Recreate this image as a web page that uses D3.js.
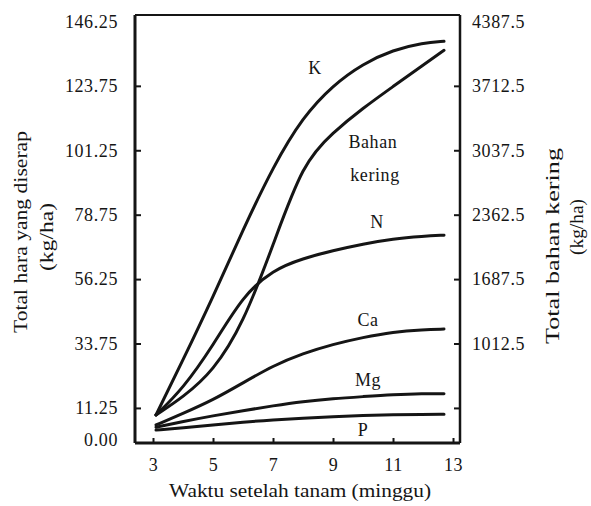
<!DOCTYPE html>
<html>
<head>
<meta charset="utf-8">
<script src="https://cdn.jsdelivr.net/npm/d3@7"></script>
<style>
  body { margin: 0; background: #fff; }
  svg { display: block; font-family: "Liberation Serif", "Times New Roman", serif; }
</style>
</head>
<body>
<div id="chart"></div>
<script>
// Data (weeks after planting)
const weeks = [3.1, 4, 5, 6, 7, 8, 9, 10, 11, 12, 12.7];
// nutrient uptake, kg/ha (left axis)
const kValues  = [8.8, 28, 50, 73.5, 95.5, 113, 124, 131.5, 136.3, 138.8, 139.3];
const nValues  = [8.8, 18, 33, 50.5, 59.5, 63.5, 66.2, 68.5, 70.3, 71.2, 71.6];
const caValues = [5.3, 9.3, 14, 20, 26, 30.3, 33.5, 35.9, 37.8, 38.6, 38.8];
const mgValues = [4.5, 6.5, 8.5, 10.3, 12, 13.5, 14.5, 15.2, 15.9, 16.3, 16.2];
const pValues  = [3.5, 4.3, 5.3, 6.3, 7.1, 7.7, 8.2, 8.6, 8.9, 9.0, 9.0];
// dry matter, kg/ha (right axis)
const bkValues = [264, 450, 720, 1215, 2040, 2910, 3225, 3480, 3705, 3930, 4085];

// tick labels
const leftTicks = [0, 11.25, 33.75, 56.25, 78.75, 101.25, 123.75, 146.25];
const rightTicks = [337.5, 1012.5, 1687.5, 2362.5, 3037.5, 3712.5, 4387.5];
const weekTicks = [3, 5, 7, 9, 11, 13];

// curve labels, placed in data units
const labelNames  = ['K', 'Bahan', 'kering', 'N', 'Ca', 'Mg', 'P'];
const labelWeeks  = [8.4, 10.33, 10.4, 10.47, 10.17, 10.17, 10.0];
const labelValues = [130, 104.1, 92.6, 76.2, 41.9, 21, 3.5];

const WIDTH = 591, HEIGHT = 506;
const MARGIN = { top: 15, right: 131, bottom: 63, left: 135 };
const INK = '#151515';

const svg = d3.select('#chart').append('svg')
    .attr('width', WIDTH)
    .attr('height', HEIGHT);

const x = d3.scaleLinear().domain([2.4, 13.233]).range([MARGIN.left, WIDTH - MARGIN.right]);
const y = d3.scaleLinear().domain([-1, 148.5]).range([HEIGHT - MARGIN.bottom, MARGIN.top]);
const y2 = d3.scaleLinear().domain([-30, 4455]).range([HEIGHT - MARGIN.bottom, MARGIN.top]);

// Axes
const leftAxis = svg.append('g')
    .attr('transform', `translate(${MARGIN.left},0)`)
    .call(d3.axisLeft(y).tickValues(leftTicks).tickFormat(d3.format('.2f'))
        .tickSizeInner(-6).tickSizeOuter(0).tickPadding(17));
leftAxis.selectAll('.tick').filter(d => d === 0 || d === 146.25).select('line').remove();

const rightAxis = svg.append('g')
    .attr('transform', `translate(${WIDTH - MARGIN.right},0)`)
    .call(d3.axisRight(y2).tickValues(rightTicks)
        .tickFormat(d => d === 337.5 ? '' : d3.format('.1f')(d))
        .tickSizeInner(-6).tickSizeOuter(0).tickPadding(12));
rightAxis.selectAll('.tick').filter(d => d === 4387.5).select('line').remove();

svg.append('g')
    .attr('transform', `translate(0,${HEIGHT - MARGIN.bottom})`)
    .call(d3.axisBottom(x).tickValues(weekTicks).tickFormat(d3.format('d'))
        .tickSizeInner(-5).tickSizeOuter(0).tickPadding(15));

svg.selectAll('.domain').remove();
svg.selectAll('.tick line').attr('stroke', INK).attr('stroke-width', 2);
svg.selectAll('.tick text')
    .attr('fill', INK)
    .style('font-size', '18px')
    .style('letter-spacing', '0.6px')
    .style('font-family', '"Liberation Serif", serif');

// Frame
const x0 = MARGIN.left, x1 = WIDTH - MARGIN.right;
const yTop = MARGIN.top, yBot = HEIGHT - MARGIN.bottom;
const frame = svg.append('g').attr('stroke', INK).attr('fill', 'none');
frame.append('line').attr('x1', x0).attr('x2', x0).attr('y1', yTop).attr('y2', yBot).attr('stroke-width', 3);
frame.append('line').attr('x1', x0).attr('x2', x1).attr('y1', yBot).attr('y2', yBot).attr('stroke-width', 3);
frame.append('line').attr('x1', x1).attr('x2', x1).attr('y1', yTop).attr('y2', yBot).attr('stroke-width', 2.5);
frame.append('line').attr('x1', x0).attr('x2', x1).attr('y1', yTop).attr('y2', yTop).attr('stroke-width', 2);

// Curves (smooth hand-drawn look)
const line = d3.line()
    .x((d, i) => x(weeks[i]))
    .y(d => y(d))
    .curve(d3.curveBasis);
const line2 = d3.line()
    .x((d, i) => x(weeks[i]))
    .y(d => y2(d))
    .curve(d3.curveBasis);

const curves = svg.append('g')
    .attr('fill', 'none')
    .attr('stroke', INK)
    .attr('stroke-width', 3)
    .attr('stroke-linecap', 'round');
[kValues, nValues, caValues, mgValues, pValues].forEach(vals => {
    curves.append('path').attr('d', line(vals));
});
curves.append('path').attr('d', line2(bkValues));

// Curve labels
svg.append('g')
    .selectAll('text')
    .data(labelNames)
    .enter().append('text')
    .attr('x', (d, i) => x(labelWeeks[i]))
    .attr('y', (d, i) => y(labelValues[i]))
    .attr('dy', '0.35em')
    .attr('text-anchor', 'middle')
    .attr('fill', INK)
    .style('font-size', '18px')
    .style('letter-spacing', '0.6px')
    .text(d => d);

// Axis titles
function title(text, tx, ty, rot, len) {
    svg.append('text')
        .attr('transform', `translate(${tx},${ty}) rotate(${rot})`)
        .attr('text-anchor', 'middle')
        .attr('dy', '0.35em')
        .attr('textLength', len)
        .attr('lengthAdjust', 'spacingAndGlyphs')
        .attr('fill', INK)
        .style('font-size', '18px')
        .text(text);
}
title('Waktu setelah tanam (minggu)', 300, 491, 0, 262);
title('Total hara yang diserap', 21, 232, -90, 202);
title('(kg/ha)', 47, 237, -90, 68);
title('Total bahan kering', 553, 246, -90, 196);
title('(kg/ha)', 577, 227, -90, 56);
</script>
</body>
</html>
